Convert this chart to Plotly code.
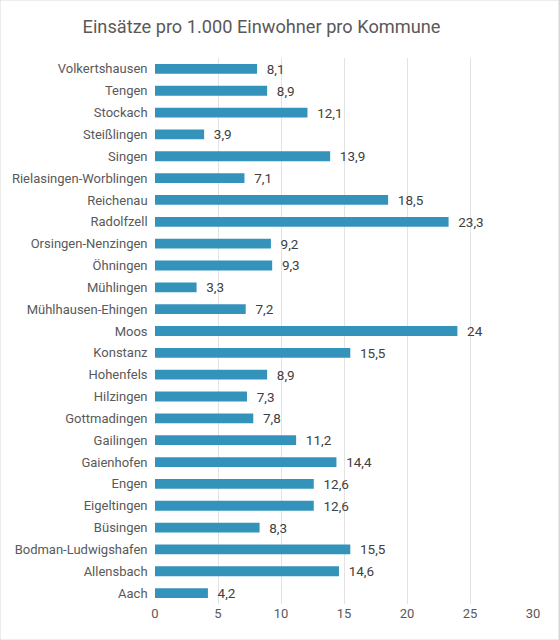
import plotly.graph_objects as go

communes = ["Volkertshausen", "Tengen", "Stockach", "Steißlingen", "Singen",
            "Rielasingen-Worblingen", "Reichenau", "Radolfzell", "Orsingen-Nenzingen",
            "Öhningen", "Mühlingen", "Mühlhausen-Ehingen", "Moos", "Konstanz",
            "Hohenfels", "Hilzingen", "Gottmadingen", "Gailingen", "Gaienhofen",
            "Engen", "Eigeltingen", "Büsingen", "Bodman-Ludwigshafen", "Allensbach", "Aach"]
values = [8.1, 8.9, 12.1, 3.9, 13.9, 7.1, 18.5, 23.3, 9.2, 9.3, 3.3, 7.2, 24, 15.5,
          8.9, 7.3, 7.8, 11.2, 14.4, 12.6, 12.6, 8.3, 15.5, 14.6, 4.2]
labels = ["  " + str(v).replace(".", ",") for v in values]

fig = go.Figure(go.Bar(
    x=values, y=communes, orientation="h",
    marker=dict(color="#3393BA", line=dict(width=0)),
    text=labels, textposition="outside", constraintext="none",
    textfont=dict(color="#404040", size=13.5),
    cliponaxis=False,
))
fig.update_layout(
    width=559, height=640,
    margin=dict(l=155, r=26, t=58, b=36),
    paper_bgcolor="white", plot_bgcolor="white",
    font=dict(family="Roboto, Liberation Sans, sans-serif", color="#595959", size=13),
    title=dict(text="Einsätze pro 1.000 Einwohner pro Kommune", x=261.5/559, xanchor="center",
               y=0.959, yanchor="middle", font=dict(size=18.2, color="#595959")),
    bargap=0.55,
    showlegend=False,
)
fig.update_xaxes(range=[0, 30], dtick=5, showgrid=True, gridcolor="#E3E3E3", gridwidth=1,
                 zeroline=False, showline=False, ticks="", tickfont=dict(size=13, color="#595959"))
fig.update_yaxes(autorange="reversed", showgrid=False, showline=False, ticks="",
                 ticksuffix="  ", tickfont=dict(size=13, color="#595959"))
fig.add_shape(type="rect", xref="paper", yref="paper", x0=-155/378, x1=1+26/378, y0=-36/546, y1=1+58/546,
              line=dict(color="#D9D9D9", width=1))
fig.write_html("out.html")
